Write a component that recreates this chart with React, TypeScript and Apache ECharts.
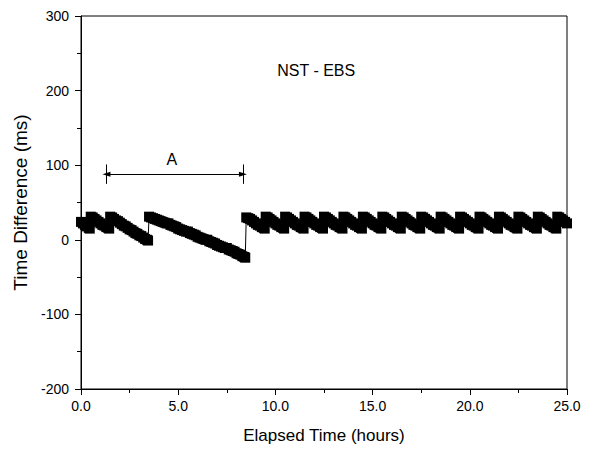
import React, { useEffect, useRef } from "react";
import * as echarts from "echarts";

// Measured samples: [elapsed hours, time difference ms]
const samples: [number, number][] = [
  [0.0, 24], [0.1, 22], [0.2, 20], [0.3, 18], [0.4, 16], [0.45, 15],
  [0.5, 31], [0.6, 30], [0.7, 28], [0.8, 26], [0.9, 24], [1.0, 22], [1.1, 20], [1.2, 19], [1.3, 17], [1.4, 16], [1.45, 15],
  [1.5, 31], [1.6, 30], [1.7, 28], [1.8, 26], [1.9, 25], [2.0, 23], [2.1, 21], [2.2, 19], [2.3, 18], [2.4, 16],
  [2.5, 14], [2.6, 13], [2.7, 11], [2.8, 9], [2.9, 8], [3.0, 6], [3.1, 5], [3.2, 3], [3.3, 1], [3.4, 0], [3.45, -1],
  [3.5, 31], [3.6, 30], [3.7, 29], [3.8, 28], [3.9, 27], [4.0, 26], [4.1, 25], [4.2, 24], [4.3, 23], [4.4, 22],
  [4.5, 22], [4.6, 20], [4.7, 19], [4.8, 18], [4.9, 17], [5.0, 15], [5.1, 14], [5.2, 13], [5.3, 12], [5.4, 11],
  [5.5, 11], [5.6, 9], [5.7, 8], [5.8, 7], [5.9, 6], [6.0, 4], [6.1, 3], [6.2, 2], [6.3, 1], [6.4, 0],
  [6.5, 0], [6.6, -2], [6.7, -3], [6.8, -4], [6.9, -5], [7.0, -7], [7.1, -8], [7.2, -9], [7.3, -10], [7.4, -11],
  [7.5, -11], [7.6, -13], [7.7, -14], [7.8, -15], [7.9, -16], [8.0, -18], [8.1, -19], [8.2, -20], [8.3, -22], [8.4, -23], [8.45, -24],
  [8.5, 30], [8.6, 29], [8.7, 28], [8.8, 26], [8.9, 24], [9.0, 22], [9.1, 20], [9.2, 19], [9.3, 17], [9.4, 16], [9.45, 15],
  [9.5, 31], [9.6, 30], [9.7, 28], [9.8, 26], [9.9, 24], [10.0, 22], [10.1, 20], [10.2, 19], [10.3, 17], [10.4, 16], [10.45, 15],
  [10.5, 31], [10.6, 30], [10.7, 28], [10.8, 26], [10.9, 24], [11.0, 22], [11.1, 20], [11.2, 19], [11.3, 17], [11.4, 16], [11.45, 15],
  [11.5, 31], [11.6, 30], [11.7, 28], [11.8, 26], [11.9, 24], [12.0, 22], [12.1, 20], [12.2, 19], [12.3, 17], [12.4, 16], [12.45, 15],
  [12.5, 31], [12.6, 30], [12.7, 28], [12.8, 26], [12.9, 24], [13.0, 22], [13.1, 20], [13.2, 19], [13.3, 17], [13.4, 16], [13.45, 15],
  [13.5, 31], [13.6, 30], [13.7, 28], [13.8, 26], [13.9, 24], [14.0, 22], [14.1, 20], [14.2, 19], [14.3, 17], [14.4, 16], [14.45, 15],
  [14.5, 31], [14.6, 30], [14.7, 28], [14.8, 26], [14.9, 24], [15.0, 22], [15.1, 20], [15.2, 19], [15.3, 17], [15.4, 16], [15.45, 15],
  [15.5, 31], [15.6, 30], [15.7, 28], [15.8, 26], [15.9, 24], [16.0, 22], [16.1, 20], [16.2, 19], [16.3, 17], [16.4, 16], [16.45, 15],
  [16.5, 31], [16.6, 30], [16.7, 28], [16.8, 26], [16.9, 24], [17.0, 22], [17.1, 20], [17.2, 19], [17.3, 17], [17.4, 16], [17.45, 15],
  [17.5, 31], [17.6, 30], [17.7, 28], [17.8, 26], [17.9, 24], [18.0, 22], [18.1, 20], [18.2, 19], [18.3, 17], [18.4, 16], [18.45, 15],
  [18.5, 31], [18.6, 30], [18.7, 28], [18.8, 26], [18.9, 24], [19.0, 22], [19.1, 20], [19.2, 19], [19.3, 17], [19.4, 16], [19.45, 15],
  [19.5, 31], [19.6, 30], [19.7, 28], [19.8, 26], [19.9, 24], [20.0, 22], [20.1, 20], [20.2, 19], [20.3, 17], [20.4, 16], [20.45, 15],
  [20.5, 31], [20.6, 30], [20.7, 28], [20.8, 26], [20.9, 24], [21.0, 22], [21.1, 20], [21.2, 19], [21.3, 17], [21.4, 16], [21.45, 15],
  [21.5, 31], [21.6, 30], [21.7, 28], [21.8, 26], [21.9, 24], [22.0, 22], [22.1, 20], [22.2, 19], [22.3, 17], [22.4, 16], [22.45, 15],
  [22.5, 31], [22.6, 30], [22.7, 28], [22.8, 26], [22.9, 24], [23.0, 22], [23.1, 20], [23.2, 19], [23.3, 17], [23.4, 16], [23.45, 15],
  [23.5, 31], [23.6, 30], [23.7, 28], [23.8, 26], [23.9, 24], [24.0, 22], [24.1, 20], [24.2, 19], [24.3, 17], [24.4, 16], [24.45, 15],
  [24.5, 31], [24.6, 30], [24.7, 28], [24.8, 26], [24.9, 24], [25.0, 22],
];

// Annotation "A" span (hours) and its height (ms)
const spanStart = 1.31;
const spanEnd = 8.33;
const spanLevel = 88;
const spanBarLow = 75;
const spanBarHigh = 101;
const spanLabel = { name: "A", hour: 4.67, ms: 108 };
const pairLabel = { name: "NST - EBS", hour: 12.1, ms: 227 };

const xTicks = { min: 0, max: 25, interval: 5 };
const yTicks = { min: -200, max: 300, interval: 100 };

const FONT = "'Liberation Sans', Arial, sans-serif";

export default function App() {
  const ref = useRef<HTMLDivElement>(null);
  useEffect(() => {
    document.body.style.margin = "0";
    if (!ref.current) return;
    const chart = echarts.init(ref.current, null, { renderer: "svg" });
    chart.setOption({
      animation: false,
      backgroundColor: "#fff",
      textStyle: { fontFamily: FONT, color: "#000" },
      grid: {
        left: 81,
        right: 22,
        top: 16,
        bottom: 60,
        show: true,
        borderColor: "#000",
        borderWidth: 1,
      },
      xAxis: {
        type: "value",
        min: xTicks.min,
        max: xTicks.max,
        interval: xTicks.interval,
        name: "Elapsed Time (hours)",
        nameLocation: "middle",
        nameGap: 38,
        nameTextStyle: { fontSize: 17, color: "#000", fontFamily: FONT },
        axisLine: { onZero: false, lineStyle: { color: "#000", width: 1 } },
        axisTick: { show: true, length: 6, lineStyle: { color: "#000" } },
        minorTick: { show: true, splitNumber: 2, length: 4, lineStyle: { color: "#000" } },
        splitLine: { show: false },
        axisLabel: {
          fontSize: 14,
          color: "#000",
          margin: 10,
          fontFamily: FONT,
          formatter: (v: number) => v.toFixed(1),
        },
      },
      yAxis: {
        type: "value",
        min: yTicks.min,
        max: yTicks.max,
        interval: yTicks.interval,
        name: "Time Difference (ms)",
        nameLocation: "middle",
        nameGap: 45,
        nameTextStyle: { fontSize: 19, color: "#000", fontFamily: FONT },
        axisLine: { onZero: false, lineStyle: { color: "#000", width: 1 } },
        axisTick: { show: true, length: 6, lineStyle: { color: "#000" } },
        minorTick: { show: true, splitNumber: 2, length: 4, lineStyle: { color: "#000" } },
        splitLine: { show: false },
        axisLabel: { fontSize: 14, color: "#000", margin: 12, fontFamily: FONT },
      },
      series: [
        {
          type: "line",
          data: samples,
          symbol: "rect",
          symbolSize: 10,
          showSymbol: true,
          itemStyle: { color: "#000" },
          lineStyle: { color: "#000", width: 1 },
          clip: true,
          markLine: {
            silent: true,
            animation: false,
            symbol: ["triangle", "triangle"],
            symbolSize: [5, 8],
            lineStyle: { color: "#000", width: 1, type: "solid" },
            label: { show: false },
            data: [
              [{ coord: [spanStart, spanLevel] }, { coord: [spanEnd, spanLevel] }],
              [
                { coord: [spanStart, spanBarLow], symbol: "none" },
                { coord: [spanStart, spanBarHigh], symbol: "none" },
              ],
              [
                { coord: [spanEnd, spanBarLow], symbol: "none" },
                { coord: [spanEnd, spanBarHigh], symbol: "none" },
              ],
            ],
          },
          markPoint: {
            silent: true,
            animation: false,
            symbol: "circle",
            symbolSize: 1,
            itemStyle: { color: "rgba(0,0,0,0)" },
            label: {
              show: true,
              position: "inside",
              formatter: "{b}",
              color: "#000",
              fontSize: 16,
              fontFamily: FONT,
            },
            data: [
              { name: spanLabel.name, coord: [spanLabel.hour, spanLabel.ms] },
              { name: pairLabel.name, coord: [pairLabel.hour, pairLabel.ms] },
            ],
          },
        },
      ],
    });
    return () => chart.dispose();
  }, []);
  return <div ref={ref} style={{ width: 589, height: 449 }} />;
}
